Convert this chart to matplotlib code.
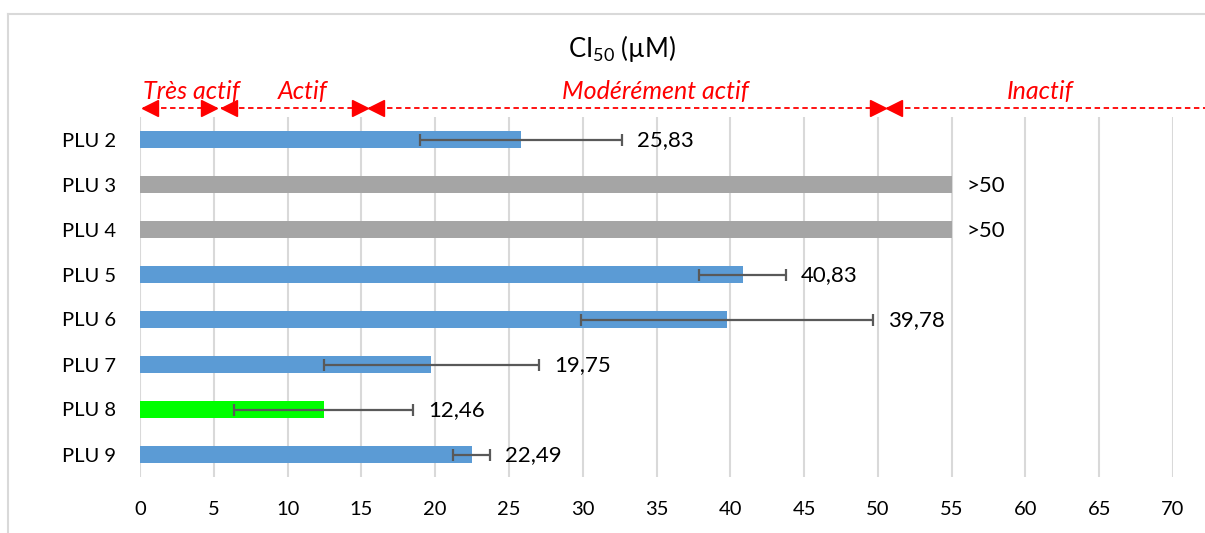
import numpy as np
import matplotlib.pyplot as plt
import matplotlib.transforms as mtransforms
from matplotlib.lines import Line2D

plt.rcParams['font.family'] = ['Lato', 'DejaVu Sans']
plt.rcParams['mathtext.fontset'] = 'custom'
plt.rcParams['mathtext.rm'] = 'Lato'

# data
compounds = ['PLU 2', 'PLU 3', 'PLU 4', 'PLU 5', 'PLU 6', 'PLU 7', 'PLU 8', 'PLU 9']
ic50 = [25.83, 55, 55, 40.83, 39.78, 19.75, 12.46, 22.49]
errors = [6.85, 0, 0, 2.95, 9.9, 7.28, 6.06, 1.25]
value_labels = ['25,83', '>50', '>50', '40,83', '39,78', '19,75', '12,46', '22,49']
bar_colors = ['#5B9BD5', '#A5A5A5', '#A5A5A5', '#5B9BD5', '#5B9BD5', '#5B9BD5', '#00FF00', '#5B9BD5']

# activity zones (label, start, end) in µM
zones = [('Très actif', 0.2, 5.2), ('Actif', 5.5, 15.4),
         ('Modérément actif', 15.5, 50.5), ('Inactif', 50.6, 72.5)]
zone_label_x = [3.5, 11.0, 34.9, 61.0]

W, H = 1205, 533
fig = plt.figure(figsize=(W / 100, H / 100), dpi=100)
ax = fig.add_axes([140 / W, 1 - 477 / H, (1173 - 140) / W, (477 - 117) / H])

y = np.arange(len(compounds))
ax.barh(y, ic50, height=0.36, color=bar_colors, zorder=2)
has_err = np.array(errors) > 0
ax.errorbar(np.array(ic50)[has_err], y[has_err], xerr=np.array(errors)[has_err],
            fmt='none', ecolor='#595959', elinewidth=1.6, capsize=4.5, capthick=1.6, zorder=3)

for yi, v, e, lab in zip(y, ic50, errors, value_labels):
    ax.annotate(lab, (v + e, yi), xytext=(15, -1), textcoords='offset pixels',
                ha='left', va='center', fontsize=16, color='black')

ax.set_xlim(0, 70)
ax.set_ylim(len(compounds) - 0.5, -0.5)
ax.set_xticks(np.arange(0, 71, 5))
ax.set_yticks(y)
ax.set_yticklabels(compounds)
ax.tick_params(length=0, labelsize=14.5, pad=17)
ax.grid(axis='x', color='#D9D9D9', linewidth=1.5, zorder=0)
ax.set_axisbelow(True)
for s in ax.spines.values():
    s.set_visible(False)

# zone arrows above the plot
trans = mtransforms.blended_transform_factory(ax.transData, fig.transFigure)
y_arrow = 1 - 108 / H
y_text = 1 - 92 / H
shift_r = mtransforms.ScaledTranslation(7.5 / 100, 0, fig.dpi_scale_trans)
shift_l = mtransforms.ScaledTranslation(-7.5 / 100, 0, fig.dpi_scale_trans)
for (name, x0, x1), xt in zip(zones, zone_label_x):
    ax.plot([x0, x1], [y_arrow, y_arrow], transform=trans, color='#FF0000',
            linestyle=(0, (3, 2)), linewidth=1.3, clip_on=False)
    ax.plot([x0], [y_arrow], transform=trans + shift_r, marker='<', markersize=11,
            color='#FF0000', clip_on=False)
    if name != 'Inactif':
        ax.plot([x1], [y_arrow], transform=trans + shift_l, marker='>', markersize=11,
                color='#FF0000', clip_on=False)
    ax.text(xt, y_text, name, transform=trans, ha='center', va='center',
            fontsize=18, style='italic', color='#FF0000')

fig.text(622 / W, 1 - 49 / H, r'$\mathregular{CI_{50}}$ (µM)', ha='center', va='center', fontsize=18.5)

# chart border
fig.add_artist(Line2D([8 / W, 1], [1 - 14 / H, 1 - 14 / H], color='#D9D9D9', linewidth=1.5))
fig.add_artist(Line2D([8 / W, 8 / W], [0, 1 - 14 / H], color='#D9D9D9', linewidth=1.5))

fig.savefig('out.png', dpi=100)
